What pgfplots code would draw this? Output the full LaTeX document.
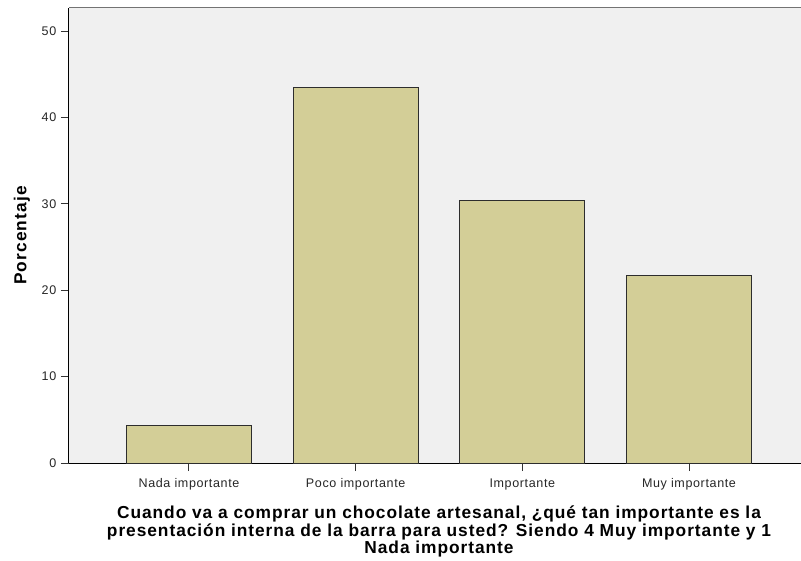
\documentclass[border=0pt]{standalone}
\usepackage{fontspec}
\setmainfont{Liberation Sans}
\usepackage{pgfplots}
\pgfplotsset{compat=1.18}
\definecolor{bgc}{RGB}{240,240,240}
\definecolor{barc}{RGB}{211,206,151}
\definecolor{edgec}{RGB}{45,45,45}
\begin{document}
\begin{tikzpicture}[x=0.75pt,y=0.75pt]
\begin{axis}[
    at={(0,0)}, anchor=south west,
    scale only axis,
    width=555pt, height=341.25pt,
    xmin=-0.72, xmax=3.72,
    ymin=0, ymax=52.7,
    axis x line*=bottom, axis y line*=left,
    axis line style={black, line width=0.75pt, -},
    axis background/.style={fill=bgc},
    ybar, bar width=0.75,
    xtick={0,1,2,3},
    xticklabels={Nada importante, Poco importante, Importante, Muy importante},
    ytick={0,10,20,30,40,50},
    /pgf/number format/assume math mode=true,
    tick align=outside, major tick length=6pt,
    tick style={black!80, line width=0.75pt},
    ticklabel style={font=\fontsize{9.4}{11}\selectfont\addfontfeature{LetterSpace=5}, text=black!85},
    xticklabel style={yshift=-2pt},
    ylabel={Porcentaje},
    ylabel style={at={(axis description cs:-0.0635,0.5)}, anchor=center,
        font=\bfseries\fontsize{13}{14}\selectfont\addfontfeature{LetterSpace=6.6}},
    xlabel={Cuando va a comprar un chocolate artesanal, ¿qué tan importante es la\\presentación interna de la barra para usted? Siendo 4 Muy importante y 1\\Nada importante},
    xlabel style={at={(axis description cs:0.5,0)}, anchor=north, yshift=-32pt,
        align=center, inner sep=0pt,
        font=\bfseries\fontsize{13}{12}\selectfont\addfontfeature{LetterSpace=5.5}},
]
\addplot[fill=barc, draw=edgec, line width=0.75pt] coordinates {
    (0,4.35) (1,43.48) (2,30.43) (3,21.74)
};
\draw[black!55, line width=0.75pt] (rel axis cs:0,1) -- (rel axis cs:1,1);
\end{axis}
\pgfresetboundingbox
\useasboundingbox (-69,-98) rectangle (732,463);
\end{tikzpicture}
\end{document}
